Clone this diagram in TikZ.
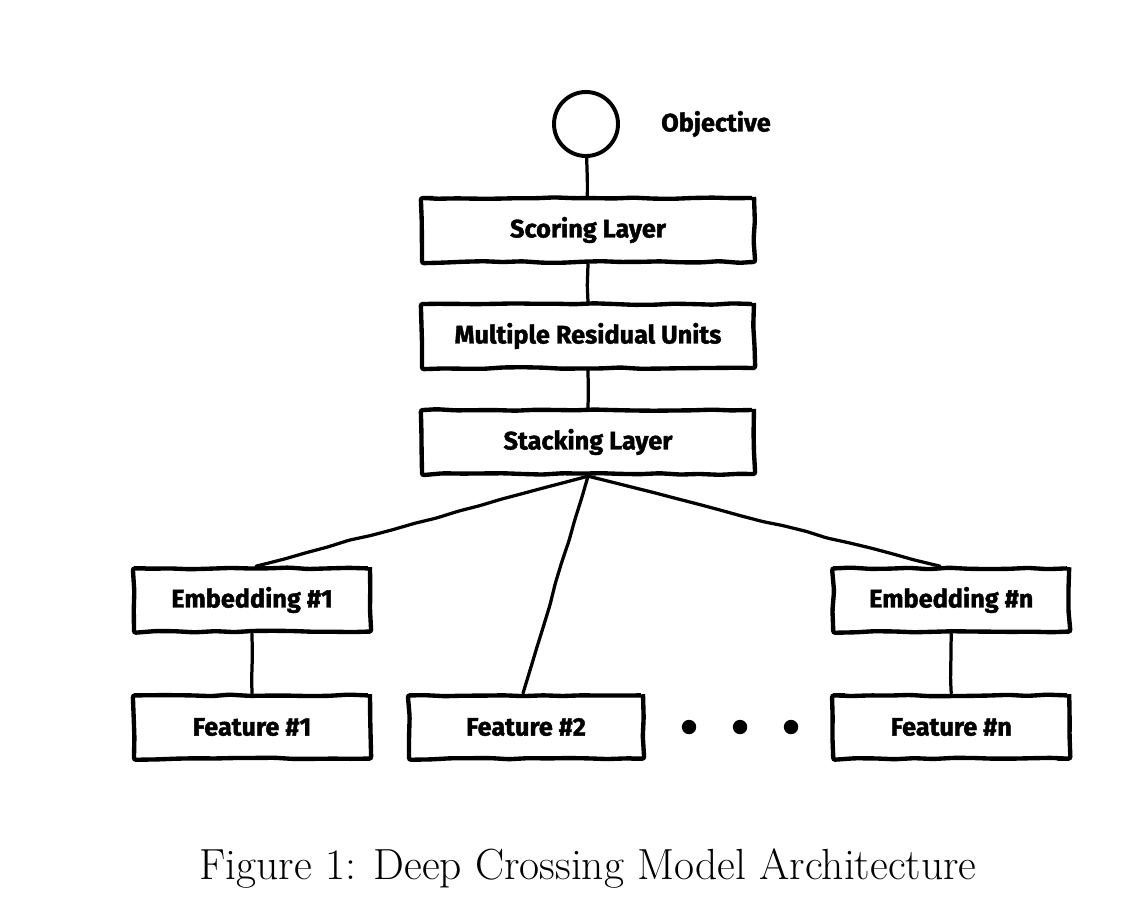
\documentclass[tikz,border=0pt]{standalone}
\usepackage{fontspec}
\setsansfont{Fira Sans}[BoldFeatures={FakeBold=1.5}]
\usepackage{tikz}
\usetikzlibrary{shapes.geometric, arrows, decorations.pathmorphing}
\pgfmathsetseed{7}
\tikzstyle{sketch} = [line width=3.1pt, rounded corners=1.5pt, decorate, decoration={random steps, segment length=14pt, amplitude=0.6pt}]
\tikzstyle{layer} = [rectangle, sketch, minimum width=8.3cm, minimum height=1.6cm, text centered, draw=black, font=\sffamily\bfseries\fontsize{18}{20}\selectfont]
\tikzstyle{block} = [rectangle, sketch, minimum width=5.9cm, minimum height=1.58cm, text centered, draw=black, font=\sffamily\bfseries\fontsize{18}{20}\selectfont]
\tikzstyle{link} = [sketch, line width=2.3pt, line cap=round, decoration={random steps, segment length=16pt, amplitude=0.6pt}]
\tikzstyle{dot} = [circle, fill=black, inner sep=0pt, minimum size=0.36cm]

\begin{document}
\begin{tikzpicture}[node distance=2.65cm]
        \useasboundingbox (0,0) rectangle (28.5,-22.75);
        \node[circle, line width=2.8pt, draw=black, minimum size=1.6cm] (obj) at (14.65,-3.1) {};
        \node[font=\sffamily\bfseries\fontsize{18}{20}\selectfont, right of=obj, xshift=0.6cm] (objlabel) {Objective};
        \node[layer, below of=obj, xshift=0.05cm](score){Scoring Layer};
        \node[layer, below of=score](resid){Multiple Residual Units};
        \node[layer, below of=resid](stack){Stacking Layer};
        \node[block, below of=stack, yshift=-1.3cm, xshift=-8.4cm](emb1){Embedding \#1};
        \node[block, below of=stack, yshift=-1.3cm, xshift=9.08cm](embn){Embedding \#n};
        \node[block, below of=emb1, yshift=-0.525cm](feat1){Feature \#1};
        \node[block, right of=feat1, xshift=4.2cm, minimum width=5.85cm](feat2){Feature \#2};
        \node[block, below of=embn, yshift=-0.525cm](featn){Feature \#n};
        \node[dot, right of=feat2, xshift=1.425cm](d1){};
        \node[dot, right of=d1, xshift=-1.375cm](d2){};
        \node[dot, right of=d2, xshift=-1.375cm](d3){};
        \node[font=\fontsize{31}{36}\selectfont, below of=feat2, xshift=1.55cm, yshift=-0.9cm](caption){Figure 1: Deep Crossing Model Architecture};

        \draw [link] (obj) -- (score);
        \draw [link] (score) -- (resid);
        \draw [link] (resid) -- (stack);
        \draw [link] (stack.south) -- ([xshift=0.1cm]emb1.north);
        \draw [link] (stack.south) -- ([xshift=-0.275cm]embn.north);
        \draw [link] (stack.south) -- ([xshift=-0.075cm]feat2.north);
        \draw [link] (emb1) -- (feat1);
        \draw [link] (embn) -- (featn);
    \end{tikzpicture}
\end{document}
